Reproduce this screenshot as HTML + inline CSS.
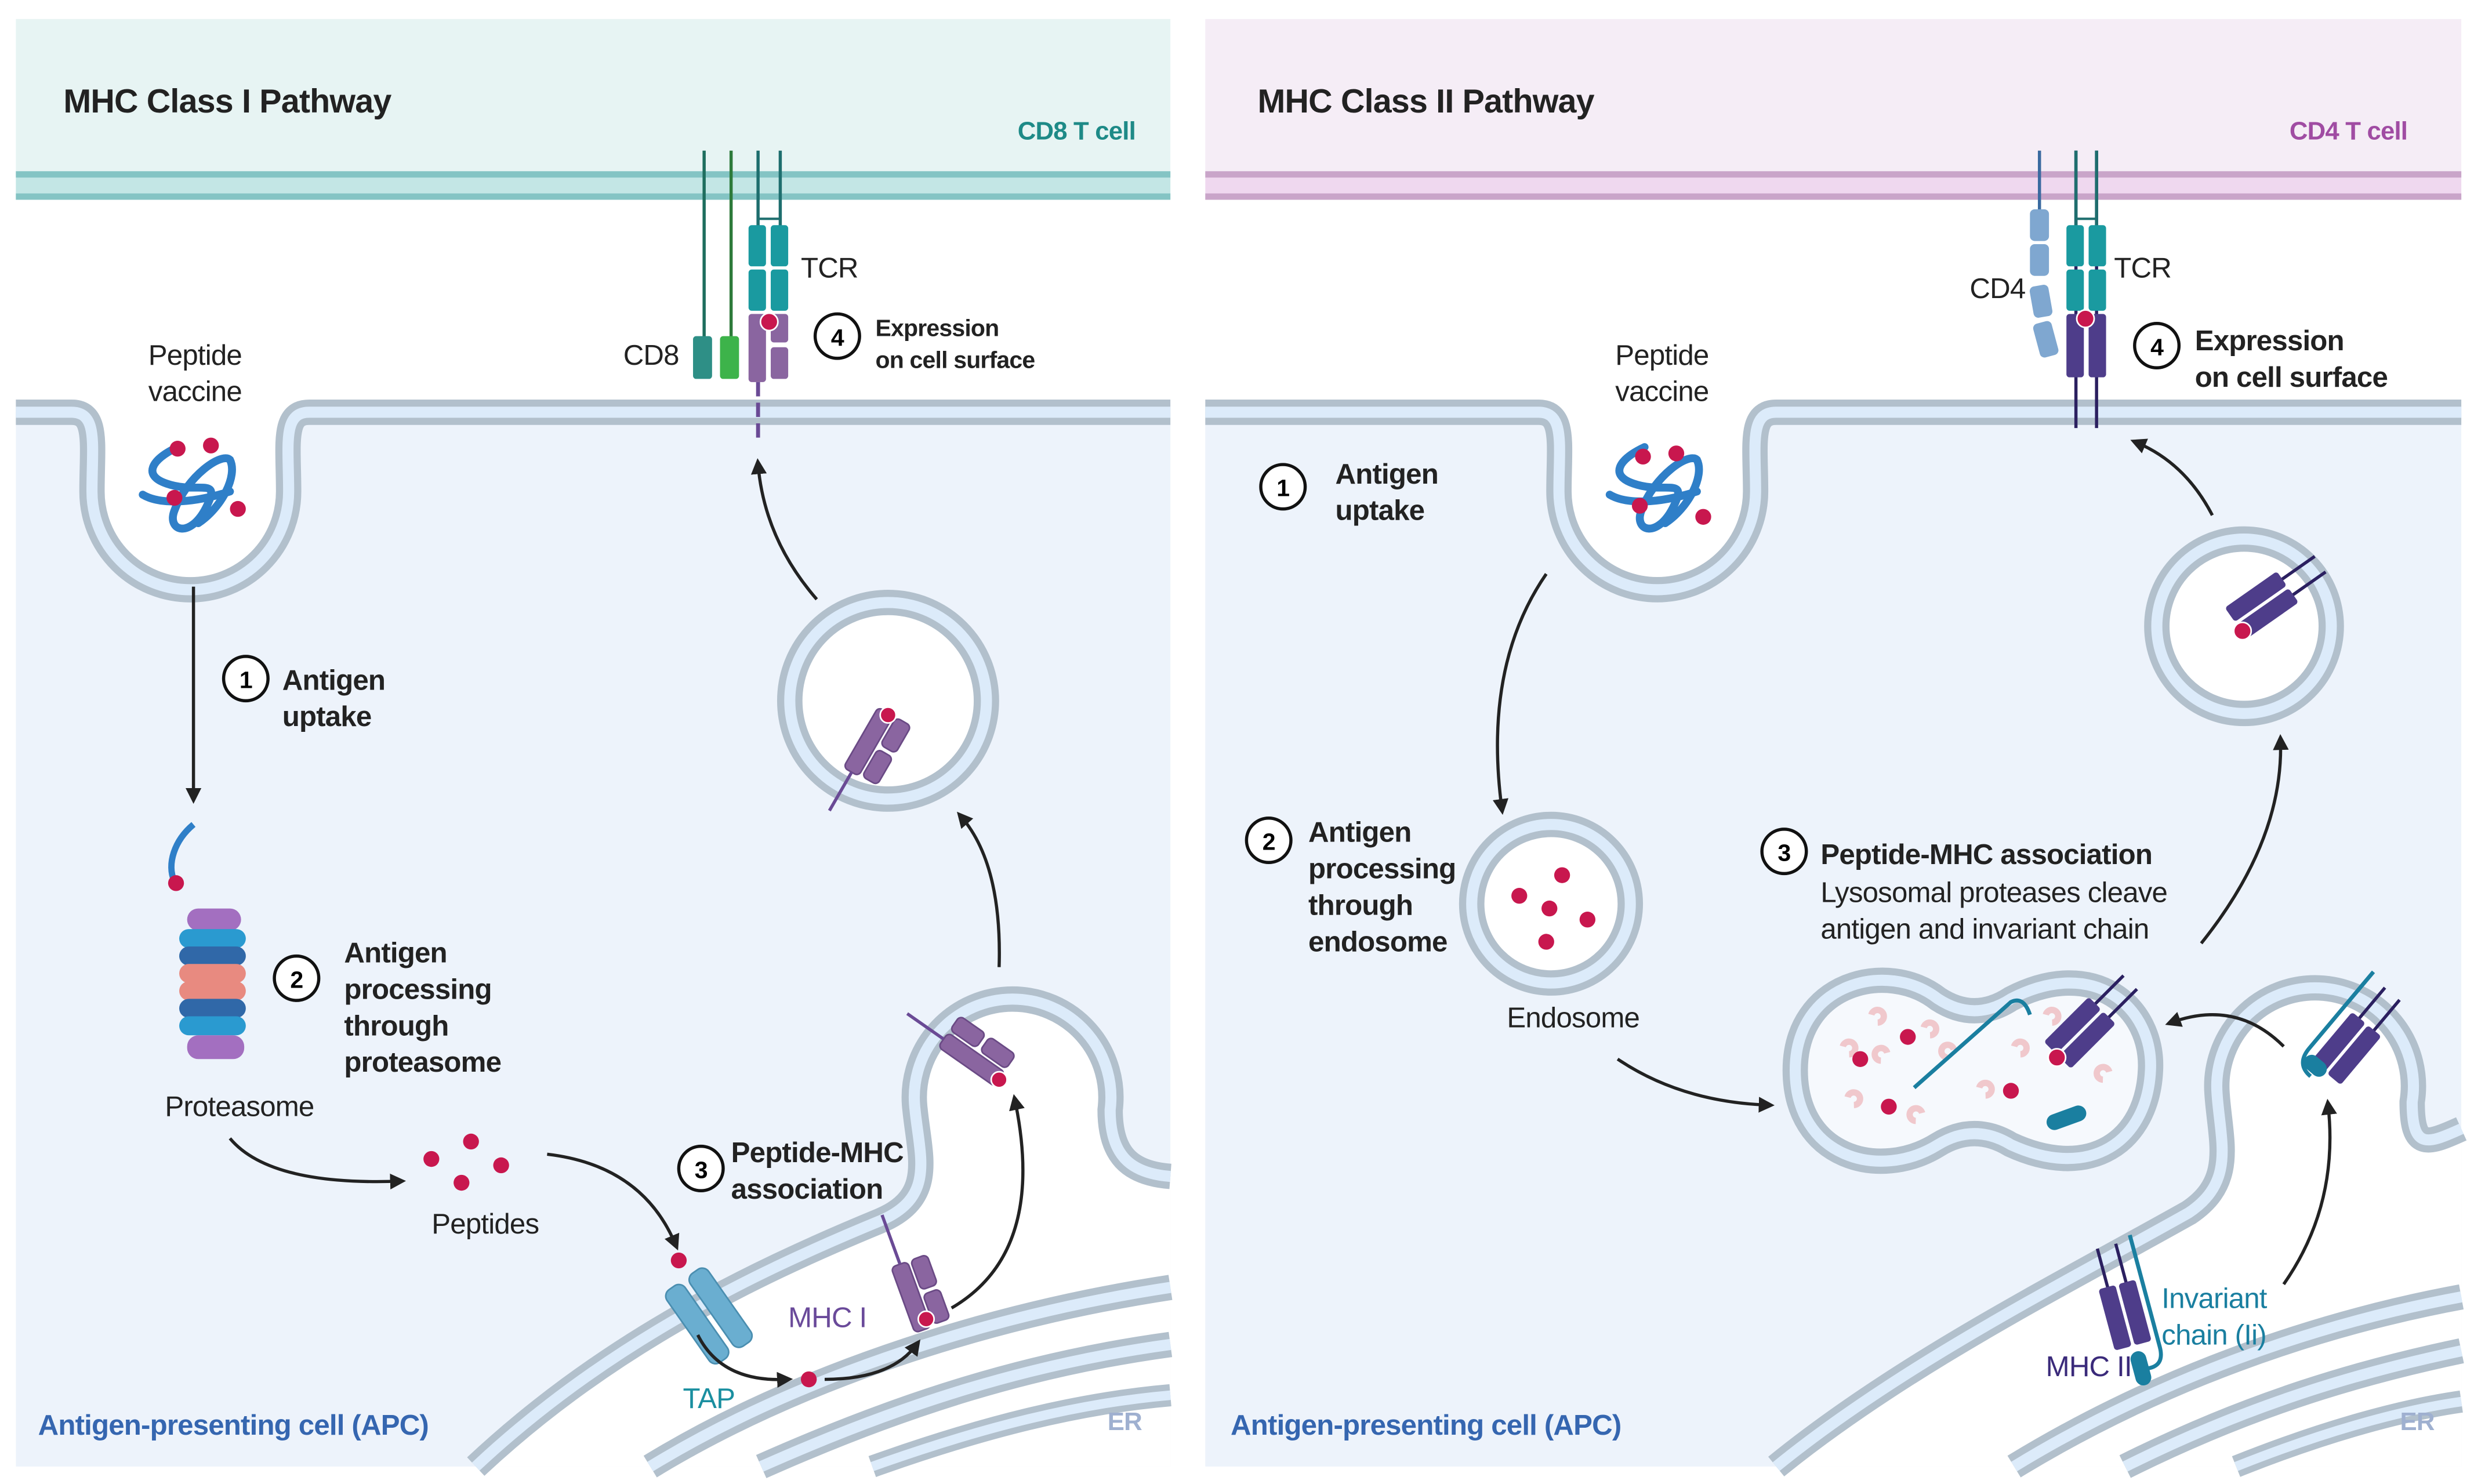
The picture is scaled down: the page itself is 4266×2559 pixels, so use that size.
<!DOCTYPE html>
<html><head><meta charset="utf-8"><style>
html,body{margin:0;padding:0;background:#fff}
svg{display:block}
text{font-family:"Liberation Sans",sans-serif;letter-spacing:-0.3px}
.b{font-weight:bold}
</style></head><body>
<svg width="4266" height="2559" viewBox="0 0 1560 936" preserveAspectRatio="none" xmlns="http://www.w3.org/2000/svg">
<defs>
<marker id="ah" viewBox="0 0 10 10" refX="6" refY="5" markerWidth="5" markerHeight="5" orient="auto"><path d="M0,0 L10,5 L0,10 Z" fill="#222"/></marker>
<path id="memL" d="M10,260 H45 C62,260 58,280 58,310 A62,62 0 0 0 182,310 C182,280 178,260 195,260 H738"/>
<path id="memR" d="M760,260 H970 C987,260 983,280 983,310 A62,62 0 0 0 1107,310 C1107,280 1103,260 1120,260 H1552"/>
<path id="erL" d="M300,925 C380,850 470,805 555,770 C590,755 580,730 577,700 A62,62 0 1 1 700,700 C700,728 712,740 738,742"/>
<path id="erR" d="M1120,925 C1200,860 1300,810 1380,765 C1410,745 1400,720 1398,690 A62,62 0 1 1 1521,695 C1521,725 1530,722 1552,712"/>
<g id="mhc1">
<rect x="-6" y="-22" width="11" height="44" rx="3" fill="#8a65a0" stroke="#6a4a85" stroke-width="1"/>
<rect x="7" y="-22" width="11" height="20" rx="3" fill="#8a65a0" stroke="#6a4a85" stroke-width="1"/>
<rect x="7" y="1" width="11" height="20" rx="3" fill="#8a65a0" stroke="#6a4a85" stroke-width="1"/>
</g>
<g id="mhc2">
<line x1="-4" y1="-45" x2="-4" y2="0" stroke="#2b2060" stroke-width="2"/>
<line x1="8" y1="-45" x2="8" y2="0" stroke="#2b2060" stroke-width="2"/>
<rect x="-10" y="-20" width="11" height="40" rx="2" fill="#4e3d8a"/>
<rect x="3" y="-20" width="11" height="40" rx="2" fill="#4e3d8a"/>
</g>
</defs>

<!-- LEFT PANEL -->
<rect x="10" y="12" width="728" height="96" fill="#e7f4f3"/>
<rect x="10" y="108" width="728" height="18" fill="#c3e6e5"/>
<rect x="10" y="108" width="728" height="4" fill="#84c4c4"/>
<rect x="10" y="122" width="728" height="4" fill="#84c4c4"/>
<path d="M10,260 H45 C62,260 58,280 58,310 A62,62 0 0 0 182,310 C182,280 178,260 195,260 H738 V925 H10 Z" fill="#edf3fb"/>
<use href="#memL" fill="none" stroke="#b2c0cc" stroke-width="16"/>
<use href="#memL" fill="none" stroke="#dcebfa" stroke-width="7"/>
<path d="M300,925 C380,850 470,805 555,770 C590,755 580,730 577,700 A62,62 0 1 1 700,700 C700,728 712,740 738,742 V925 Z" fill="#fff"/>
<use href="#erL" fill="none" stroke="#b2c0cc" stroke-width="16"/>
<use href="#erL" fill="none" stroke="#dcebfa" stroke-width="7"/>
<path d="M410,925 C500,870 620,830 738,812" fill="none" stroke="#b2c0cc" stroke-width="16"/>
<path d="M410,925 C500,870 620,830 738,812" fill="none" stroke="#dcebfa" stroke-width="7"/>
<path d="M480,925 C570,885 650,860 738,848" fill="none" stroke="#b2c0cc" stroke-width="16"/>
<path d="M480,925 C570,885 650,860 738,848" fill="none" stroke="#dcebfa" stroke-width="7"/>
<path d="M550,925 C620,900 680,885 738,880" fill="none" stroke="#b2c0cc" stroke-width="14"/>
<path d="M550,925 C620,900 680,885 738,880" fill="none" stroke="#dcebfa" stroke-width="6"/>

<text x="40" y="71" font-size="21" class="b" fill="#222">MHC Class I Pathway</text>
<text x="716" y="88" font-size="16" class="b" fill="#1e8a87" text-anchor="end">CD8 T cell</text>

<!-- TCR / CD8 -->
<line x1="444" y1="95" x2="444" y2="215" stroke="#1e6e5e" stroke-width="2"/>
<line x1="461" y1="95" x2="461" y2="215" stroke="#2d7a3a" stroke-width="2"/>
<line x1="478" y1="95" x2="478" y2="145" stroke="#1e6e6e" stroke-width="2"/>
<line x1="492" y1="95" x2="492" y2="145" stroke="#1e6e6e" stroke-width="2"/>
<line x1="478" y1="138" x2="492" y2="138" stroke="#1e6e6e" stroke-width="1.5"/>
<rect x="472" y="142" width="11" height="26" rx="2" fill="#1a9aa0"/>
<rect x="486" y="142" width="11" height="26" rx="2" fill="#1a9aa0"/>
<rect x="472" y="170" width="11" height="26" rx="2" fill="#1a9aa0"/>
<rect x="486" y="170" width="11" height="26" rx="2" fill="#1a9aa0"/>
<rect x="437" y="212" width="12" height="27" rx="2" fill="#2e8f86"/>
<rect x="454" y="212" width="12" height="27" rx="2" fill="#3db34a"/>
<rect x="472" y="198" width="11" height="43" rx="2" fill="#8a65a0"/>
<rect x="486" y="198" width="11" height="18" rx="2" fill="#8a65a0"/>
<rect x="486" y="219" width="11" height="20" rx="2" fill="#8a65a0"/>
<circle cx="485" cy="203" r="5.5" fill="#c8174e" stroke="#fff" stroke-width="1"/>
<line x1="478" y1="241" x2="478" y2="278" stroke="#6a4a95" stroke-width="2.5" stroke-dasharray="9,4"/>
<text x="505" y="175" font-size="18" fill="#222">TCR</text>
<text x="393" y="230" font-size="18" fill="#222">CD8</text>
<circle cx="528" cy="212" r="14" fill="#fff" stroke="#111" stroke-width="2"/>
<text x="528" y="218" font-size="15" class="b" text-anchor="middle">4</text>
<text x="552" y="212" font-size="15" class="b" fill="#222">Expression</text>
<text x="552" y="232" font-size="15" class="b" fill="#222">on cell surface</text>

<!-- vaccine -->
<text x="123" y="230" font-size="18" fill="#222" text-anchor="middle">Peptide</text>
<text x="123" y="253" font-size="18" fill="#222" text-anchor="middle">vaccine</text>
<g fill="none" stroke="#2f7fc8" stroke-width="5" stroke-linecap="round">
<path d="M112,282 C95,290 90,300 105,305 C125,312 140,300 130,320 C120,340 105,335 110,322 C118,300 140,285 145,290 C150,300 140,320 125,330"/>
<path d="M90,312 C100,318 120,318 145,310"/>
</g>
<circle cx="112" cy="283" r="5" fill="#c8174e"/><circle cx="133" cy="281" r="5" fill="#c8174e"/>
<circle cx="110" cy="314" r="5" fill="#c8174e"/><circle cx="150" cy="321" r="5" fill="#c8174e"/>

<line x1="122" y1="370" x2="122" y2="503" stroke="#222" stroke-width="2" marker-end="url(#ah)"/>
<circle cx="155" cy="428" r="14" fill="#fff" stroke="#111" stroke-width="2"/>
<text x="155" y="434" font-size="15" class="b" text-anchor="middle">1</text>
<text x="178" y="435" font-size="18" class="b" fill="#222">Antigen</text>
<text x="178" y="458" font-size="18" class="b" fill="#222">uptake</text>

<!-- proteasome -->
<path d="M122,520 C110,530 105,545 110,556" fill="none" stroke="#2f7fc8" stroke-width="4"/>
<circle cx="111" cy="557" r="5" fill="#c8174e"/>
<g>
<rect x="118" y="573" width="34" height="14" rx="7" fill="#a36fc0"/>
<rect x="113" y="586" width="42" height="12" rx="6" fill="#2a9ad0"/>
<rect x="113" y="597" width="42" height="12" rx="6" fill="#3068a8"/>
<rect x="113" y="608" width="42" height="12" rx="6" fill="#e88a80"/>
<rect x="113" y="619" width="42" height="12" rx="6" fill="#e88a80"/>
<rect x="113" y="630" width="42" height="12" rx="6" fill="#3068a8"/>
<rect x="113" y="641" width="42" height="12" rx="6" fill="#2a9ad0"/>
<rect x="118" y="653" width="36" height="15" rx="7" fill="#a36fc0"/>
</g>
<circle cx="187" cy="617" r="14" fill="#fff" stroke="#111" stroke-width="2"/>
<text x="187" y="623" font-size="15" class="b" text-anchor="middle">2</text>
<text x="217" y="607" font-size="18" class="b" fill="#222">Antigen</text>
<text x="217" y="630" font-size="18" class="b" fill="#222">processing</text>
<text x="217" y="653" font-size="18" class="b" fill="#222">through</text>
<text x="217" y="676" font-size="18" class="b" fill="#222">proteasome</text>
<text x="151" y="704" font-size="18" fill="#222" text-anchor="middle">Proteasome</text>
<path d="M145,718 Q170,748 252,745" fill="none" stroke="#222" stroke-width="2" marker-end="url(#ah)"/>
<circle cx="272" cy="731" r="5" fill="#c8174e"/><circle cx="297" cy="720" r="5" fill="#c8174e"/>
<circle cx="291" cy="746" r="5" fill="#c8174e"/><circle cx="316" cy="735" r="5" fill="#c8174e"/>
<text x="306" y="778" font-size="18" fill="#222" text-anchor="middle">Peptides</text>
<path d="M345,728 Q405,735 426,785" fill="none" stroke="#222" stroke-width="2" marker-end="url(#ah)"/>
<circle cx="428" cy="795" r="5" fill="#c8174e"/>
<!-- TAP -->
<g transform="translate(447,830) rotate(-35)">
<rect x="-16" y="-28" width="14" height="56" rx="5" fill="#6aaed0" stroke="#4a8eb0"/>
<rect x="2" y="-28" width="14" height="56" rx="5" fill="#6aaed0" stroke="#4a8eb0"/>
</g>
<text x="447" y="888" font-size="18" fill="#1a8fa0" text-anchor="middle">TAP</text>
<path d="M440,842 Q455,872 496,870" fill="none" stroke="#222" stroke-width="2" marker-end="url(#ah)"/>
<circle cx="510" cy="870" r="5" fill="#c8174e"/>
<path d="M520,870 Q562,870 578,848" fill="none" stroke="#222" stroke-width="2" marker-end="url(#ah)"/>
<g transform="translate(575,818) rotate(-20)"><use href="#mhc1"/><line x1="0" y1="-22" x2="0" y2="-55" stroke="#6a4a95" stroke-width="2"/></g>
<circle cx="584" cy="832" r="5" fill="#c8174e" stroke="#fff"/>
<text x="497" y="837" font-size="18" fill="#6a4a9a">MHC I</text>
<circle cx="442" cy="737" r="14" fill="#fff" stroke="#111" stroke-width="2"/>
<text x="442" y="743" font-size="15" class="b" text-anchor="middle">3</text>
<text x="461" y="733" font-size="18" class="b" fill="#222">Peptide-MHC</text>
<text x="461" y="756" font-size="18" class="b" fill="#222">association</text>
<path d="M600,825 Q660,790 640,694" fill="none" stroke="#222" stroke-width="2" marker-end="url(#ah)"/>
<g transform="translate(613,668) rotate(-55)"><use href="#mhc1"/><line x1="0" y1="-22" x2="0" y2="-50" stroke="#6a4a95" stroke-width="2"/></g>
<circle cx="630" cy="681" r="5" fill="#c8174e" stroke="#fff"/>
<path d="M630,610 Q632,545 606,515" fill="none" stroke="#222" stroke-width="2" marker-end="url(#ah)"/>
<circle cx="560" cy="442" r="62" fill="#fff" stroke="#b2c0cc" stroke-width="16"/>
<circle cx="560" cy="442" r="62" fill="none" stroke="#dcebfa" stroke-width="7"/>
<g transform="translate(548,468) rotate(30)"><use href="#mhc1"/><line x1="0" y1="22" x2="0" y2="50" stroke="#6a4a95" stroke-width="2"/></g>
<circle cx="560" cy="451" r="5" fill="#c8174e" stroke="#fff"/>
<path d="M515,378 Q482,340 478,293" fill="none" stroke="#222" stroke-width="2" marker-end="url(#ah)"/>
<text x="24" y="905" font-size="18" class="b" fill="#3566b0">Antigen-presenting cell (APC)</text>
<text x="720" y="902" font-size="16" class="b" fill="#9fb0d0" text-anchor="end">ER</text>

<!-- RIGHT PANEL -->
<rect x="760" y="12" width="792" height="96" fill="#f5edf6"/>
<rect x="760" y="108" width="792" height="18" fill="#efd8ef"/>
<rect x="760" y="108" width="792" height="4" fill="#c9a5c9"/>
<rect x="760" y="122" width="792" height="4" fill="#c9a5c9"/>
<path d="M760,260 H970 C987,260 983,280 983,310 A62,62 0 0 0 1107,310 C1107,280 1103,260 1120,260 H1552 V925 H760 Z" fill="#edf3fb"/>
<use href="#memR" fill="none" stroke="#b2c0cc" stroke-width="16"/>
<use href="#memR" fill="none" stroke="#dcebfa" stroke-width="7"/>
<path d="M1120,925 C1200,860 1300,810 1380,765 C1410,745 1400,720 1398,690 A62,62 0 1 1 1521,695 C1521,725 1530,722 1552,712 V925 Z" fill="#fff"/>
<use href="#erR" fill="none" stroke="#b2c0cc" stroke-width="16"/>
<use href="#erR" fill="none" stroke="#dcebfa" stroke-width="7"/>
<path d="M1270,925 C1360,870 1460,835 1552,818" fill="none" stroke="#b2c0cc" stroke-width="16"/>
<path d="M1270,925 C1360,870 1460,835 1552,818" fill="none" stroke="#dcebfa" stroke-width="7"/>
<path d="M1340,925 C1420,885 1490,865 1552,852" fill="none" stroke="#b2c0cc" stroke-width="16"/>
<path d="M1340,925 C1420,885 1490,865 1552,852" fill="none" stroke="#dcebfa" stroke-width="7"/>
<path d="M1410,925 C1460,905 1510,890 1552,884" fill="none" stroke="#b2c0cc" stroke-width="14"/>
<path d="M1410,925 C1460,905 1510,890 1552,884" fill="none" stroke="#dcebfa" stroke-width="6"/>

<text x="793" y="71" font-size="21" class="b" fill="#222">MHC Class II Pathway</text>
<text x="1518" y="88" font-size="16" class="b" fill="#a04ca3" text-anchor="end">CD4 T cell</text>

<!-- CD4/TCR -->
<line x1="1286" y1="95" x2="1286" y2="135" stroke="#3a6aa0" stroke-width="2"/>
<rect x="1280" y="132" width="12" height="20" rx="3" fill="#7fa7d0"/>
<rect x="1280" y="154" width="12" height="20" rx="3" fill="#7fa7d0"/>
<rect x="1281" y="180" width="12" height="20" rx="3" fill="#7fa7d0" transform="rotate(-10 1287 190)"/>
<rect x="1284" y="203" width="12" height="22" rx="3" fill="#7fa7d0" transform="rotate(-15 1290 214)"/>
<line x1="1309" y1="95" x2="1309" y2="270" stroke="#2b2060" stroke-width="2"/>
<line x1="1322" y1="95" x2="1322" y2="270" stroke="#2b2060" stroke-width="2"/>
<line x1="1309" y1="95" x2="1309" y2="145" stroke="#1e6e6e" stroke-width="2"/>
<line x1="1322" y1="95" x2="1322" y2="145" stroke="#1e6e6e" stroke-width="2"/>
<line x1="1309" y1="138" x2="1322" y2="138" stroke="#1e6e6e" stroke-width="1.5"/>
<rect x="1303" y="142" width="11" height="26" rx="2" fill="#1a9aa0"/>
<rect x="1317" y="142" width="11" height="26" rx="2" fill="#1a9aa0"/>
<rect x="1303" y="170" width="11" height="26" rx="2" fill="#1a9aa0"/>
<rect x="1317" y="170" width="11" height="26" rx="2" fill="#1a9aa0"/>
<rect x="1303" y="198" width="11" height="40" rx="2" fill="#4e3d8a"/>
<rect x="1317" y="198" width="11" height="40" rx="2" fill="#4e3d8a"/>
<circle cx="1315" cy="201" r="5.5" fill="#c8174e" stroke="#fff"/>
<text x="1242" y="188" font-size="18" fill="#222">CD4</text>
<text x="1333" y="175" font-size="18" fill="#222">TCR</text>
<circle cx="1360" cy="218" r="14" fill="#fff" stroke="#111" stroke-width="2"/>
<text x="1360" y="224" font-size="15" class="b" text-anchor="middle">4</text>
<text x="1384" y="221" font-size="18" class="b" fill="#222">Expression</text>
<text x="1384" y="244" font-size="18" class="b" fill="#222">on cell surface</text>

<text x="1048" y="230" font-size="18" fill="#222" text-anchor="middle">Peptide</text>
<text x="1048" y="253" font-size="18" fill="#222" text-anchor="middle">vaccine</text>
<g fill="none" stroke="#2f7fc8" stroke-width="5" stroke-linecap="round">
<path d="M1037,282 C1020,290 1015,300 1030,305 C1050,312 1065,300 1055,320 C1045,340 1030,335 1035,322 C1043,300 1065,285 1070,290 C1075,300 1065,320 1050,330"/>
<path d="M1015,312 C1025,318 1045,318 1070,310"/>
</g>
<circle cx="1036" cy="288" r="5" fill="#c8174e"/><circle cx="1057" cy="286" r="5" fill="#c8174e"/>
<circle cx="1034" cy="319" r="5" fill="#c8174e"/><circle cx="1074" cy="326" r="5" fill="#c8174e"/>

<circle cx="809" cy="307" r="14" fill="#fff" stroke="#111" stroke-width="2"/>
<text x="809" y="313" font-size="15" class="b" text-anchor="middle">1</text>
<text x="842" y="305" font-size="18" class="b" fill="#222">Antigen</text>
<text x="842" y="328" font-size="18" class="b" fill="#222">uptake</text>
<path d="M975,362 Q935,420 947,510" fill="none" stroke="#222" stroke-width="2" marker-end="url(#ah)"/>

<circle cx="978" cy="570" r="50" fill="#fff" stroke="#b2c0cc" stroke-width="16"/>
<circle cx="978" cy="570" r="50" fill="none" stroke="#dcebfa" stroke-width="7"/>
<circle cx="985" cy="552" r="5" fill="#c8174e"/><circle cx="958" cy="565" r="5" fill="#c8174e"/>
<circle cx="977" cy="573" r="5" fill="#c8174e"/><circle cx="1001" cy="580" r="5" fill="#c8174e"/>
<circle cx="975" cy="594" r="5" fill="#c8174e"/>
<circle cx="800" cy="530" r="14" fill="#fff" stroke="#111" stroke-width="2"/>
<text x="800" y="536" font-size="15" class="b" text-anchor="middle">2</text>
<text x="825" y="531" font-size="18" class="b" fill="#222">Antigen</text>
<text x="825" y="554" font-size="18" class="b" fill="#222">processing</text>
<text x="825" y="577" font-size="18" class="b" fill="#222">through</text>
<text x="825" y="600" font-size="18" class="b" fill="#222">endosome</text>
<text x="992" y="648" font-size="18" fill="#222" text-anchor="middle">Endosome</text>
<path d="M1020,668 Q1060,695 1115,697" fill="none" stroke="#222" stroke-width="2" marker-end="url(#ah)"/>

<path d="M1132,675 C1132,620 1190,605 1222,630 Q1245,645 1268,630 C1320,603 1358,635 1356,675 C1354,720 1318,745 1268,722 Q1245,708 1222,722 C1185,745 1132,730 1132,675 Z" fill="#f6f9fd" stroke="#b2c0cc" stroke-width="16"/>
<path d="M1132,675 C1132,620 1190,605 1222,630 Q1245,645 1268,630 C1320,603 1358,635 1356,675 C1354,720 1318,745 1268,722 Q1245,708 1222,722 C1185,745 1132,730 1132,675 Z" fill="none" stroke="#dcebfa" stroke-width="7"/>
<g fill="none" stroke="#f0c8cc" stroke-width="4">
<path d="M1162,660 a4,4 0 1 1 4,5"/><path d="M1190,664 a4,4 0 1 0 -4,5"/><path d="M1213,648 a4,4 0 1 1 4,5"/>
<path d="M1165,692 a4,4 0 1 1 4,5"/><path d="M1212,702 a4,4 0 1 0 -4,5"/><path d="M1248,686 a4,4 0 1 1 4,5"/>
<path d="M1232,662 a4,4 0 1 0 -4,5"/><path d="M1270,660 a4,4 0 1 1 4,5"/><path d="M1330,676 a4,4 0 1 0 -4,5"/>
<path d="M1180,640 a4,4 0 1 1 4,5"/><path d="M1290,640 a4,4 0 1 1 4,5"/>
</g>
<circle cx="1203" cy="654" r="5" fill="#c8174e"/><circle cx="1173" cy="668" r="5" fill="#c8174e"/>
<circle cx="1191" cy="698" r="5" fill="#c8174e"/><circle cx="1268" cy="688" r="5" fill="#c8174e"/>
<path d="M1207,686 L1268,632 Q1276,628 1280,640" fill="none" stroke="#1a7fa0" stroke-width="2.5"/>
<rect x="1290" y="700" width="26" height="10" rx="5" fill="#1a7fa0" transform="rotate(-20 1303 705)"/>
<g transform="translate(1310,650) rotate(45)"><use href="#mhc2"/></g>
<circle cx="1297" cy="667" r="5.5" fill="#c8174e" stroke="#fff"/>
<circle cx="1125" cy="537" r="14" fill="#fff" stroke="#111" stroke-width="2"/>
<text x="1125" y="543" font-size="15" class="b" text-anchor="middle">3</text>
<text x="1148" y="545" font-size="18" class="b" fill="#222">Peptide-MHC association</text>
<text x="1148" y="569" font-size="18" fill="#222">Lysosomal proteases cleave</text>
<text x="1148" y="592" font-size="18" fill="#222">antigen and invariant chain</text>
<path d="M1388,595 Q1440,530 1438,467" fill="none" stroke="#222" stroke-width="2" marker-end="url(#ah)"/>
<circle cx="1415" cy="395" r="55" fill="#fff" stroke="#b2c0cc" stroke-width="16"/>
<circle cx="1415" cy="395" r="55" fill="none" stroke="#dcebfa" stroke-width="7"/>
<g transform="translate(1425,380) rotate(55)"><use href="#mhc2"/></g>
<circle cx="1414" cy="398" r="5.5" fill="#c8174e" stroke="#fff"/>
<path d="M1395,325 Q1378,292 1347,279" fill="none" stroke="#222" stroke-width="2" marker-end="url(#ah)"/>
<path d="M1440,660 Q1410,630 1369,645" fill="none" stroke="#222" stroke-width="2" marker-end="url(#ah)"/>
<g transform="translate(1478,660) rotate(40)"><use href="#mhc2"/><path d="M-16,-48 L-16,15 Q-16,28 -4,28" fill="none" stroke="#1a7fa0" stroke-width="2.5"/><rect x="-14" y="16" width="16" height="10" rx="5" fill="#1a7fa0"/></g>
<path d="M1440,810 Q1475,760 1468,697" fill="none" stroke="#222" stroke-width="2" marker-end="url(#ah)"/>
<g transform="translate(1338,830) rotate(-15)"><use href="#mhc2"/><path d="M18,-48 L18,25 Q18,38 6,36" fill="none" stroke="#1a7fa0" stroke-width="2.5"/><rect x="-2" y="24" width="10" height="22" rx="5" fill="#1a7fa0"/></g>
<text x="1290" y="868" font-size="18" fill="#3a2a7a">MHC II</text>
<text x="1363" y="825" font-size="18" fill="#1a7fa0">Invariant</text>
<text x="1363" y="848" font-size="18" fill="#1a7fa0">chain (Ii)</text>
<text x="776" y="905" font-size="18" class="b" fill="#3566b0">Antigen-presenting cell (APC)</text>
<text x="1535" y="902" font-size="16" class="b" fill="#9fb0d0" text-anchor="end">ER</text>
</svg>
</body></html>
